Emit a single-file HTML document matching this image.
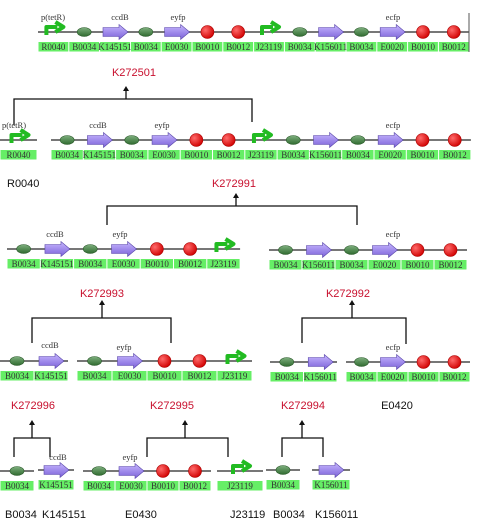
<!DOCTYPE html>
<html><head><meta charset="utf-8"><style>
body{margin:0;background:#fff;}
svg{display:block;}
.lbl{font-family:"Liberation Serif",serif;font-size:9px;fill:#333;}
.gn{font-family:"Liberation Serif",serif;font-size:8.5px;fill:#333;}
.red{font-family:"Liberation Sans",sans-serif;font-size:11px;fill:#c8102e;}
.blk{font-family:"Liberation Sans",sans-serif;font-size:11px;fill:#111;}
</style></head><body>
<svg id="s" width="490" height="522" xmlns="http://www.w3.org/2000/svg">
<defs>
<radialGradient id="gR" cx="0.35" cy="0.35" r="0.7"><stop offset="0" stop-color="#ff6a6a"/><stop offset="1" stop-color="#d00000"/></radialGradient>
<linearGradient id="gG" x1="0" y1="0" x2="0" y2="1"><stop offset="0" stop-color="#7fb07f"/><stop offset="1" stop-color="#2f6a2f"/></linearGradient>
<linearGradient id="gP" x1="0" y1="0" x2="0" y2="1"><stop offset="0" stop-color="#c8b8ff"/><stop offset="1" stop-color="#7a60d8"/></linearGradient>
</defs>
</svg>
<script>
const NS="http://www.w3.org/2000/svg";
const svg=document.getElementById('s');
function el(t,a,txt){const e=document.createElementNS(NS,t);for(const k in a)e.setAttribute(k,a[k]);if(txt!==undefined)e.textContent=txt;svg.appendChild(e);return e;}
const TYPES={R0040:'P',J23119:'P',B0034:'R',K145151:'C',K156011:'C',E0030:'C',E0020:'C',B0010:'T',B0012:'T'};
function construct(x0,w,y,parts){
  const n=parts.length;
  let ln=el('line',{x1:x0,y1:y,x2:x0+n*w,y2:y,stroke:'#777','stroke-width':2});
  
  
  parts.forEach((p,i)=>{
    const cx=x0+w*(i+0.5), t=TYPES[p];
    let g;
    if(t==='R'){g=el('ellipse',{cx:cx,cy:y,rx:7,ry:4.5,fill:'url(#gG)',stroke:'#2a5a2a','stroke-width':0.6});}
    else if(t==='C'){g=el('path',{d:`M${cx-12},${y-4.5} L${cx+4},${y-4.5} L${cx+4},${y-7.5} L${cx+13},${y} L${cx+4},${y+7.5} L${cx+4},${y+4.5} L${cx-12},${y+4.5} Z`,fill:'url(#gP)',stroke:'#5a48a8','stroke-width':0.6});}
    else if(t==='T'){g=el('circle',{cx:cx,cy:y,r:6.5,fill:'url(#gR)',stroke:'#a00','stroke-width':0.6});}
    else {g=el('path',{d:`M${cx-7},${y+3} L${cx-7},${y-5} L${cx+4},${y-5} M${cx+2},${y-10} L${cx+10},${y-5} L${cx+2},${y}`,fill:'none',stroke:'#22bb22','stroke-width':4,'stroke-linejoin':'round'});}
    
    
    const r=el('rect',{x:x0+w*i+0.5,y:y+10,width:w-1,height:9.5,fill:'#66ee66'});
    
    
    const tx=el('text',{x:cx,y:y+18,'text-anchor':'middle',class:'lbl'},p);
    
    
  });
}
function text(x,y,s,cls,anchor){const t=el('text',{x:x,y:y,class:cls,'text-anchor':anchor||'middle'},s);
  
  }
function bracket(xl,xr,yb,yl,yr,ax,ytop){
  const p=el('path',{d:`M${xl},${yl} L${xl},${yb} L${xr},${yb} L${xr},${yr} M${ax},${yb} L${ax},${ytop+4}`,fill:'none',stroke:'#111','stroke-width':1.3});
  
  
  const a=el('path',{d:`M${ax-3},${ytop+5} L${ax},${ytop} L${ax+3},${ytop+5} Z`,fill:'#111'});
  
  
}
construct(38,30.8,32,['R0040','B0034','K145151','B0034','E0030','B0010','B0012','J23119','B0034','K156011','B0034','E0020','B0010','B0012']);
el('line',{x1:469,y1:13,x2:469,y2:52,stroke:'#555','stroke-width':1});
text(53,20,'p(tetR)','gn');text(120,20,'ccdB','gn');text(178,20,'eyfp','gn');text(393,20,'ecfp','gn');
text(134,76,'K272501','red');
bracket(14,252,99,125,122,126,86);
construct(0,37,140,['R0040']);
construct(51,32.3,140,['B0034','K145151','B0034','E0030','B0010','B0012','J23119','B0034','K156011','B0034','E0020','B0010','B0012']);
text(14,128,'p(tetR)','gn');text(98,128,'ccdB','gn');text(162,128,'eyfp','gn');text(393,128,'ecfp','gn');
text(7,187,'R0040','blk','start');
text(234,187,'K272991','red');
bracket(107,357,206,225,225,236,193);
construct(7,33.3,249,['B0034','K145151','B0034','E0030','B0010','B0012','J23119']);
construct(269,33,250,['B0034','K156011','B0034','E0020','B0010','B0012']);
text(55,237,'ccdB','gn');text(120,237,'eyfp','gn');text(393,237,'ecfp','gn');
text(102,297,'K272993','red');
bracket(32,171,318,343,343,102,300);
text(348,297,'K272992','red');
bracket(302,406,318,343,344,352,300);
construct(0,34,361,['B0034','K145151']);
construct(77,35,361,['B0034','E0030','B0010','B0012','J23119']);
construct(270,33.5,362,['B0034','K156011']);
construct(346,31,362,['B0034','E0020','B0010','B0012']);
text(50,348,'ccdB','gn');text(124,350,'eyfp','gn');text(393,350,'ecfp','gn');
text(33,409,'K272996','red');text(172,409,'K272995','red');text(303,409,'K272994','red');text(397,409,'E0420','blk');
bracket(14,50,438,457,457,32,420);
bracket(147,228,438,457,457,185,420);
bracket(282,323,438,457,457,302,420);
construct(0,34,471,['B0034']);
construct(38,36,470,['K145151']);
construct(83,32,471,['B0034','E0030','B0010','B0012']);
construct(217,46,471,['J23119']);
construct(266,34,470,['B0034']);
construct(312,38,470,['K156011']);
text(58,460,'ccdB','gn');text(130,460,'eyfp','gn');
text(5,518,'B0034','blk','start');text(42,518,'K145151','blk','start');text(125,518,'E0430','blk','start');
text(230,518,'J23119','blk','start');text(273,518,'B0034','blk','start');text(315,518,'K156011','blk','start');
</script>
</body></html>
